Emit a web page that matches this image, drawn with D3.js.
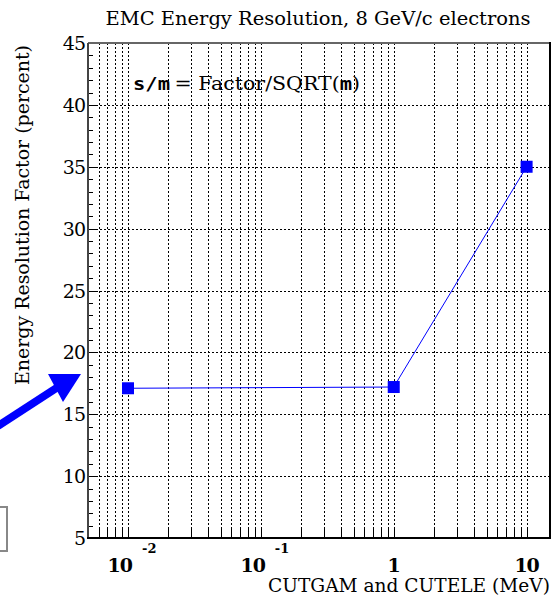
<!DOCTYPE html>
<html>
<head>
<meta charset="utf-8">
<script src="https://cdn.jsdelivr.net/npm/d3@7/dist/d3.min.js"></script>
<style>
  body { margin: 0; background: #fff; }
  svg { display: block; }
</style>
</head>
<body>
<div id="chart"></div>
<script>
// data
const cutValues = [0.01, 1, 10];          // CUTGAM / CUTELE (MeV)
const factorValues = [17.1, 17.2, 35.0];  // resolution factor (percent)
const yTicks = [5, 10, 15, 20, 25, 30, 35, 40, 45];
const xDecades = [{ v: 0.01, base: "10", exp: "-2" }, { v: 0.1, base: "10", exp: "-1" },
                  { v: 1, base: "1", exp: "" }, { v: 10, base: "10", exp: "" }];

const W = 559, H = 602;
const plotLeft = 88, plotRight = 550, plotTop = 43, plotBottom = 538;
const serif = "'DejaVu Serif', 'Liberation Serif', serif";
const mono = "'DejaVu Sans Mono', 'Liberation Mono', monospace";

const svg = d3.select("#chart").append("svg")
    .attr("width", W)
    .attr("height", H)
    .style("font-family", serif);

const x = d3.scaleLog().domain([0.005, 15]).range([plotLeft, plotRight]);
const y = d3.scaleLinear().domain([5, 45]).range([plotBottom, plotTop]);

// minor log positions inside the domain
const xMinor = [];
for (let e = -3; e <= 1; e++) {
    for (let m = 1; m <= 9; m++) {
        const v = m * Math.pow(10, e);
        if (v > 0.005 && v < 15) xMinor.push(v);
    }
}

// vertical dotted grid
svg.append("g")
    .selectAll("line")
    .data(xMinor)
    .enter()
    .append("line")
    .attr("x1", d => Math.round(x(d)) + 0.5)
    .attr("x2", d => Math.round(x(d)) + 0.5)
    .attr("y1", plotTop)
    .attr("y2", plotBottom)
    .attr("stroke", "#000")
    .attr("stroke-width", 1)
    .attr("stroke-dasharray", "2,2");

// horizontal dotted grid
svg.append("g")
    .selectAll("line")
    .data(yTicks.filter(d => d > 5 && d < 45))
    .enter()
    .append("line")
    .attr("x1", plotLeft)
    .attr("x2", plotRight)
    .attr("y1", d => Math.round(y(d)) + 0.5)
    .attr("y2", d => Math.round(y(d)) + 0.5)
    .attr("stroke", "#000")
    .attr("stroke-width", 1)
    .attr("stroke-dasharray", "2,2");

// x ticks (inward from bottom)
svg.append("g")
    .selectAll("line")
    .data(xMinor)
    .enter()
    .append("line")
    .attr("x1", d => Math.round(x(d)) + 0.5)
    .attr("x2", d => Math.round(x(d)) + 0.5)
    .attr("y1", plotBottom)
    .attr("y2", plotBottom - 10)
    .attr("stroke", "#000")
    .attr("stroke-width", 1);

// y ticks (inward from left), one per unit
svg.append("g")
    .selectAll("line")
    .data(d3.range(6, 45))
    .enter()
    .append("line")
    .attr("x1", plotLeft)
    .attr("x2", d => plotLeft + (d % 5 === 0 ? 10 : 5))
    .attr("y1", d => Math.round(y(d)) + 0.5)
    .attr("y2", d => Math.round(y(d)) + 0.5)
    .attr("stroke", "#000")
    .attr("stroke-width", 1);

// frame
svg.append("line").attr("x1", plotLeft).attr("x2", plotRight).attr("y1", plotTop).attr("y2", plotTop)
    .attr("stroke", "#666").attr("stroke-width", 2);
svg.append("line").attr("x1", plotLeft).attr("x2", plotLeft).attr("y1", plotTop).attr("y2", plotBottom)
    .attr("stroke", "#444").attr("stroke-width", 2);
svg.append("line").attr("x1", plotRight).attr("x2", plotRight).attr("y1", plotTop - 1).attr("y2", plotBottom + 1)
    .attr("stroke", "#000").attr("stroke-width", 2);
svg.append("line").attr("x1", plotLeft - 1).attr("x2", plotRight + 1).attr("y1", plotBottom).attr("y2", plotBottom)
    .attr("stroke", "#000").attr("stroke-width", 2);

// y tick labels
svg.append("g")
    .selectAll("text")
    .data(yTicks)
    .enter()
    .append("text")
    .attr("x", plotLeft - 3)
    .attr("y", d => y(d) + 7)
    .attr("text-anchor", "end")
    .style("font-family", serif)
    .style("font-size", "19px")
    .style("letter-spacing", "-1px")
    .text(d => d);

// x tick labels with superscripts
const xl = svg.append("g")
    .selectAll("text")
    .data(xDecades)
    .enter()
    .append("text")
    .attr("x", d => x(d.v) + (d.exp ? 4 : 0))
    .attr("y", 572)
    .attr("text-anchor", "middle")
    .style("font-family", serif)
    .style("font-size", "19px")
    .style("font-weight", "bold");
xl.append("tspan").style("letter-spacing", "-1px").text(d => d.base);
xl.append("tspan")
    .attr("dx", 10)
    .attr("dy", -19)
    .style("font-size", "13px")
    .text(d => d.exp);

// data line
const line = d3.line().x((d, i) => x(cutValues[i])).y(d => y(d));
svg.append("path")
    .datum(factorValues)
    .attr("d", line)
    .attr("fill", "none")
    .attr("stroke", "#0000ff")
    .attr("stroke-width", 1);

svg.append("g")
    .selectAll("rect")
    .data(factorValues)
    .enter()
    .append("rect")
    .attr("x", (d, i) => x(cutValues[i]) - 6)
    .attr("y", d => y(d) - 6)
    .attr("width", 12)
    .attr("height", 12)
    .attr("fill", "#0000ff");

// title
svg.append("text")
    .attr("x", 318)
    .attr("y", 25)
    .attr("text-anchor", "middle")
    .attr("textLength", 425)
    .attr("lengthAdjust", "spacingAndGlyphs")
    .style("font-family", serif)
    .style("font-size", "19px")
    .text("EMC Energy Resolution, 8 GeV/c electrons");

// axis titles
svg.append("text")
    .attr("x", 550)
    .attr("y", 592)
    .attr("text-anchor", "end")
    .attr("textLength", 282)
    .attr("lengthAdjust", "spacingAndGlyphs")
    .style("font-family", serif)
    .style("font-size", "18px")
    .text("CUTGAM and CUTELE (MeV)");

svg.append("text")
    .attr("transform", "translate(29," + 215 + ") rotate(-90)")
    .attr("text-anchor", "middle")
    .attr("textLength", 340)
    .attr("lengthAdjust", "spacingAndGlyphs")
    .style("font-family", serif)
    .style("font-size", "18px")
    .text("Energy Resolution Factor (percent)");

// formula annotation
const ann = svg.append("text")
    .attr("x", 133)
    .attr("y", 90)
    .attr("textLength", 227)
    .attr("lengthAdjust", "spacingAndGlyphs")
    .style("font-family", serif)
    .style("font-size", "18px");
ann.append("tspan")
    .style("font-family", mono)
    .style("font-weight", "bold")
    .text("s/m");
ann.append("tspan").attr("dx", 4).text("= Factor/SQRT(");
ann.append("tspan")
    .style("font-family", mono)
    .style("font-weight", "bold")
    .text("m");
ann.append("tspan").text(")");

// blue arrow on the left edge
svg.append("line")
    .attr("x1", -2).attr("y1", 426)
    .attr("x2", 58).attr("y2", 387)
    .attr("stroke", "#0000ff")
    .attr("stroke-width", 8);
svg.append("polygon")
    .attr("points", "48,374 81,374 63,402")
    .attr("fill", "#0000ff");

// partial box at lower left
svg.append("rect")
    .attr("x", -10).attr("y", 507)
    .attr("width", 17).attr("height", 44)
    .attr("fill", "none")
    .attr("stroke", "#888")
    .attr("stroke-width", 2);
</script>
</body>
</html>
